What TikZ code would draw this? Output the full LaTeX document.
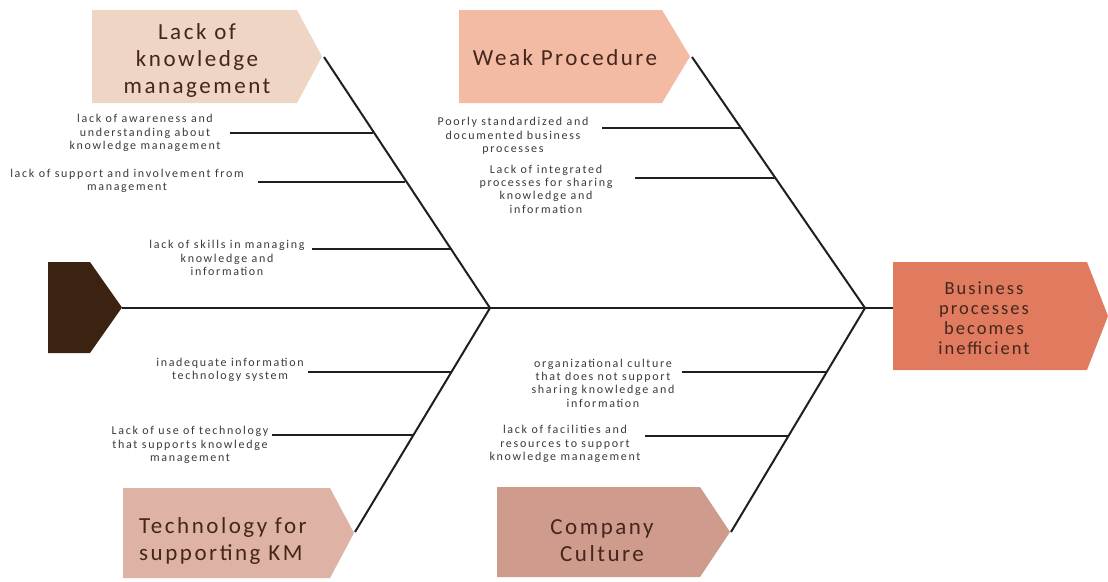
\documentclass[tikz,border=0pt]{standalone}
\usepackage{fontspec}
\setmainfont{Carlito}
\newfontfamily\headfont[LetterSpace=11]{Carlito}
\newfontfamily\notefont[LetterSpace=14]{Carlito}
\usetikzlibrary{calc}
\definecolor{tailbrown}{HTML}{3B2211}
\definecolor{kmpeach}{HTML}{EFD5C4}
\definecolor{procpink}{HTML}{F3BAA4}
\definecolor{techrose}{HTML}{DEB3A6}
\definecolor{culturerose}{HTML}{CE9B8D}
\definecolor{effectred}{HTML}{E07B60}
\definecolor{titlebrown}{HTML}{45261B}
\definecolor{notegrey}{HTML}{3E3A38}
\def\arrowbox[#1](#2,#3)(#4,#5)(#6){\fill[#1] (#2,#3) -- (#4,#3) -- ({#4+#6},{(#3+#5)/2}) -- (#4,#5) -- (#2,#5) -- cycle;}
\tikzset{
	cause/.style={text=titlebrown, font=\headfont\fontsize{23}{27}\selectfont, align=center, inner sep=0pt},
	effect/.style={text=titlebrown, font=\headfont\fontsize{18.5}{20}\selectfont, align=center, inner sep=0pt},
	note/.style={text=notegrey, font=\notefont\fontsize{12}{13.4}\selectfont, align=center, inner sep=0pt},
	bone/.style={line width=2pt, color=black!88}
}

\begin{document}
\begin{tikzpicture}[x=1pt, y=-1pt]
			%%%%% START %%%%%
			
			\fill[white] (0, 0) rectangle (1108, 581);
			\useasboundingbox (0, 0) rectangle (1108, 581);
			
			% heads of the bones
			\arrowbox[tailbrown](48, 262)(90, 353)(32);
			\arrowbox[kmpeach](92, 10)(297, 103)(25);
			\arrowbox[procpink](459, 10)(662, 103)(28);
			\arrowbox[techrose](123, 488)(330, 578)(24);
			\arrowbox[culturerose](497, 487)(700, 577)(30);
			\arrowbox[effectred](893, 262)(1087, 370)(21);
			
			\node[cause] (km) at (197, 60) {Lack of\\knowledge\\management};
			\node[cause] (proc) at (565, 58) {Weak Procedure};
			\node[cause, align=left] (tech) at (223, 541) {Technology for\\supporting KM};
			\node[cause] (cult) at (602, 541) {Company\\Culture};
			\node[effect] (eff) at (984, 318) {Business\\processes\\becomes\\inefficient};
			
			\coordinate (tailtip) at (122, 308);
			\coordinate (effin) at (893, 308);
			\coordinate (j1) at (490, 308);
			\coordinate (j2) at (865, 308);
			\coordinate (kmtip) at (324, 57);
			\coordinate (proctip) at (692, 57);
			\coordinate (techtip) at (355, 532);
			\coordinate (culttip) at (731, 532);
			
			% spine and main bones
			\draw[bone] (tailtip) -- (effin);
			\draw[bone] (kmtip) -- (j1);
			\draw[bone] (proctip) -- (j2);
			\draw[bone] (techtip) -- (j1);
			\draw[bone] (culttip) -- (j2);
			
			% small bones
			\coordinate (a1) at (230, 133);	\coordinate (b1) at (373, 133);
			\coordinate (a2) at (258, 182);	\coordinate (b2) at (405, 182);
			\coordinate (a3) at (312, 249);	\coordinate (b3) at (452, 249);
			\coordinate (a4) at (602, 128);	\coordinate (b4) at (741, 128);
			\coordinate (a5) at (635, 178);	\coordinate (b5) at (776, 178);
			\coordinate (a6) at (308, 372);	\coordinate (b6) at (451, 372);
			\coordinate (a7) at (272, 435);	\coordinate (b7) at (413, 435);
			\coordinate (a8) at (682, 372);	\coordinate (b8) at (826, 372);
			\coordinate (a9) at (645, 436);	\coordinate (b9) at (788, 436);
			\foreach \i in {1,...,9}
				\draw[bone] (a\i) -- (b\i);
			
			\node[note] (n1) at (145, 133) {lack of awareness and\\understanding about\\knowledge management};
			\node[note] (n2) at (127, 181) {lack of support and involvement from\\management};
			\node[note] (n3) at (227, 258) {lack of skills in managing\\knowledge and\\information};
			\node[note] (n4) at (513, 136) {Poorly standardized and\\documented business\\processes};
			\node[note] (n5) at (546, 189) {Lack of integrated\\processes for sharing\\knowledge and\\information};
			\node[note] (n6) at (230, 370) {inadequate information\\technology system};
			\node[note] (n7) at (190, 445) {Lack of use of technology\\that supports knowledge\\management};
			\node[note] (n8) at (603, 383) {organizational culture\\that does not support\\sharing knowledge and\\information};
			\node[note] (n9) at (565, 444) {lack of facilities and\\resources to support\\knowledge management};
			
			%%%%% END %%%%%
\end{tikzpicture}
\end{document}
